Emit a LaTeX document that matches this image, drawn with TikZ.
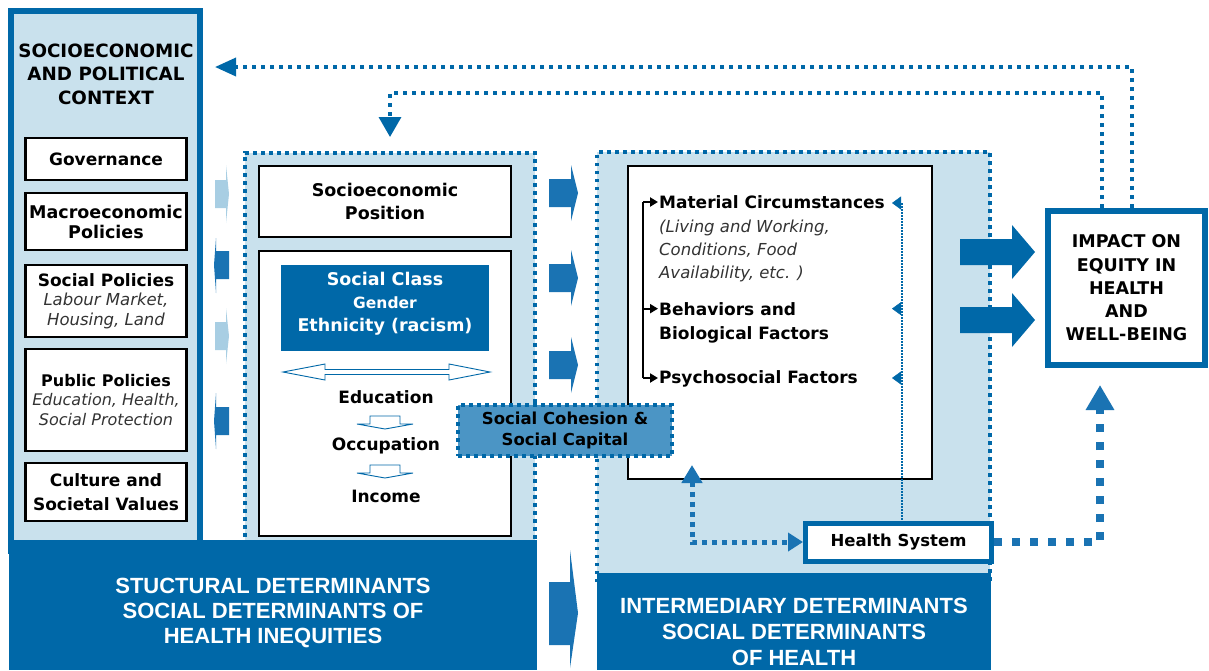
\documentclass[tikz,border=0pt]{standalone}
\usepackage{fontspec}
\setmainfont{DejaVu Sans}
\newfontfamily\bandfont{Liberation Sans}
\usetikzlibrary{arrows.meta,calc}
\definecolor{dblue}{HTML}{0068A8}
\definecolor{lblue}{HTML}{C9E1ED}
\definecolor{mblue}{HTML}{4B95C5}
\definecolor{ablue}{HTML}{1A73B3}
\definecolor{pblue}{HTML}{A8CEE3}
\newcommand{\myfs}[2]{\fontsize{#1}{#2}\selectfont}
\begin{document}
\begin{tikzpicture}[x=1pt,y=-1pt,
  panelbox/.style={inner sep=0,outer sep=0,fill=lblue},
  ctxframe/.style={draw=dblue,line width=6,fill=lblue,inner sep=0},
  sdot/.style={draw=dblue,line width=4,dash pattern=on 4 off 4},
  idot/.style={draw=dblue,line width=3.5,dash pattern=on 3.5 off 4.5},
  wbox/.style={draw=black,line width=2.2,fill=white,inner sep=0,align=center},
  lbl/.style={inner sep=0,align=center},
  itl/.style={inner sep=0,anchor=base west,font=\itshape\myfs{16.5}{20},text=black!80},
  bdl/.style={inner sep=0,anchor=base west,font=\bfseries\myfs{17}{20}},
  bk/.style={line width=2,-{Triangle[width=9,length=8]},shorten >=1},
  tinytip/.style={draw=dblue,line width=0.5,-{Triangle[width=13,length=9]}},
  fb/.style={draw=dblue,line width=3.5,dash pattern=on 4 off 5},
  hd/.style={draw=ablue,line width=8,dash pattern=on 8 off 10},
  hollow/.style={draw=dblue,line width=0.9,fill=white}
]
\useasboundingbox (0,0) rectangle (1209,670);

% ---------- panels ----------
\node[ctxframe,minimum width=189,minimum height=540] (ctx) at (105.5,281) {};
\node[panelbox,minimum width=290,minimum height=400] (strp) at (390,353) {};
\draw[sdot] (strp.south west) -- (strp.north west) -- (strp.north east) -- (strp.south east);
\node[panelbox,minimum width=393,minimum height=430] (intp) at (793.5,367) {};
\draw[idot] (intp.south west) -- (intp.north west) -- (intp.north east) -- (intp.south east);

% ---------- bottom bands ----------
\node[fill=dblue,inner sep=0,minimum width=528,minimum height=130] (sband) at (273,605) {};
\node[lbl,text=white,font=\bandfont\bfseries\myfs{22}{25}] (sbt) at (273,613) {STUCTURAL DETERMINANTS\\SOCIAL DETERMINANTS OF\\HEALTH INEQUITIES};
\node[fill=dblue,inner sep=0,minimum width=394,minimum height=97] (iband) at (794,621.5) {};
\node[lbl,text=white,font=\bandfont\bfseries\myfs{22}{26}] (ibt) at (794,632) {INTERMEDIARY DETERMINANTS\\SOCIAL DETERMINANTS\\OF HEALTH};

% ---------- left context ----------
\node[lbl,font=\bfseries\myfs{18.3}{23.5}] (ctxt) at (106,74) {SOCIOECONOMIC\\AND POLITICAL\\CONTEXT};
\node[wbox,minimum width=161,minimum height=42,font=\bfseries\myfs{17}{20}] (gov) at (106,159) {Governance};
\node[wbox,minimum width=161,minimum height=57,font=\bfseries\myfs{17.5}{20}] (mac) at (106,221.5) {Macroeconomic\\Policies};
\node[wbox,minimum width=161,minimum height=72,font=\myfs{16.5}{19.5}] (socp) at (106,301) {{\bfseries\myfs{17}{19.5}Social Policies}\\{\itshape\color{black!80}Labour Market,}\\{\itshape\color{black!80}Housing, Land}};
\node[wbox,minimum width=161,minimum height=102,font=\myfs{16}{19.5}] (pubp) at (106,400) {{\bfseries Public Policies}\\{\itshape\color{black!80}Education, Health,}\\{\itshape\color{black!80}Social Protection}};
\node[wbox,minimum width=161,minimum height=58,font=\bfseries\myfs{17}{24}] (cult) at (106,492) {Culture and\\Societal Values};

% small arrows in the gap
\fill[pblue] (215,180) -- (226,180) -- (226,165) -- (229,194) -- (226,223) -- (226,208) -- (215,208) -- cycle;
\fill[ablue] (229,251) -- (216,251) -- (216,238) -- (214,265) -- (216,293) -- (216,279) -- (229,279) -- cycle;
\fill[pblue] (215,322) -- (226,322) -- (226,308) -- (229,336) -- (226,364) -- (226,350) -- (215,350) -- cycle;
\fill[ablue] (229,407) -- (216,407) -- (216,393) -- (214,421) -- (216,449) -- (216,435) -- (229,435) -- cycle;

% ---------- structural ----------
\node[wbox,minimum width=252,minimum height=71,font=\bfseries\myfs{17.5}{23}] (sep) at (385,201.5) {Socioeconomic\\Position};
\node[wbox,minimum width=252,minimum height=285] (big) at (385,393.5) {};
\node[fill=dblue,inner sep=0,minimum width=208,minimum height=86] (scg) at (385,308) {};
\node[lbl,text=white,font=\bfseries\myfs{17.5}{23}] (scgt) at (385,304) {Social Class\\{\myfs{15.5}{23}Gender}\\Ethnicity (racism)};
\draw[hollow] (283,372) -- (325,364) -- (325,369.5) -- (449,369.5) -- (449,364) -- (490,372) -- (449,380) -- (449,374.5) -- (325,374.5) -- (325,380) -- cycle;
\node[lbl,font=\bfseries\myfs{17}{20}] (edu) at (386,397) {Education};
\node[lbl,font=\bfseries\myfs{17}{20}] (occ) at (386,446) {Occupation};
\node[lbl,font=\bfseries\myfs{17}{20}] (inc) at (386,496) {Income};
\draw[hollow] (370,416) -- (400,416) -- (400,424) -- (413,424) -- (385,429) -- (357,424) -- (370,424) -- cycle;
\draw[hollow] (370,465) -- (400,465) -- (400,473) -- (413,473) -- (385,478) -- (357,473) -- (370,473) -- cycle;

% arrows structural -> intermediary
\foreach \yy in {193,278,365}{
  \fill[ablue] (549,\yy-14) -- (571,\yy-14) -- (571,\yy-28) -- (578,\yy) -- (571,\yy+28) -- (571,\yy+14) -- (549,\yy+14) -- cycle;
}
\fill[ablue] (549,582) -- (570,582) -- (570,550) -- (578,613) -- (570,668) -- (570,645) -- (549,645) -- cycle;

% ---------- intermediary ----------
\node[wbox,minimum width=304,minimum height=313] (mbox) at (780,322.5) {};
\node[bdl] (matc) at (659,208) {Material Circumstances};
\node[itl] (it1) at (659,232) {(Living and Working,};
\node[itl] (it2) at (659,255) {Conditions, Food};
\node[itl] (it3) at (659,278) {Availability, etc. )};
\node[bdl] (behav) at (659,315) {Behaviors and};
\node[bdl] (biol) at (659,339) {Biological Factors};
\node[bdl] (psy) at (659,383) {Psychosocial Factors};

\coordinate (bt) at (643,202);
\coordinate (bb) at (643,378);
\draw[line width=2] (bt) -- (bb);
\draw[bk] (bt) -- (bt -| matc.west);
\draw[bk] (bt |- behav.west) -- (behav.west);
\draw[bk] (bb) -- (bb -| psy.west);

\node[draw=dblue,line width=5,fill=white,minimum width=186,minimum height=38,inner sep=0,font=\bfseries\myfs{16.5}{20}] (hs) at (898.5,542) {Health System};

\coordinate (vt) at (902,203);
\draw[dblue,line width=1.3,dash pattern=on 1.5 off 1.5] (vt) -- (vt |- hs.north);
\draw[tinytip] (vt) -- ($(vt)+(-10,0)$);
\draw[tinytip] (vt |- behav.west) -- ($(vt |- behav.west)+(-10,0)$);
\draw[tinytip] (vt |- bb) -- ($(vt |- bb)+(-10,0)$);

\coordinate (mu) at (692,465);
\draw[draw=ablue,line width=5,dash pattern=on 5 off 5,{Triangle[width=20,length=18]}-{Triangle[width=18,length=15]}] (mu) |- (hs.west);

% ---------- impact ----------
\node[draw=dblue,line width=6,fill=white,minimum width=157,minimum height=154,inner sep=0,align=center,font=\bfseries\myfs{17.5}{23.3}] (imp) at (1126.5,288) {IMPACT ON\\EQUITY IN\\HEALTH\\AND\\WELL-BEING};
\foreach \yy in {252,320}{
  \fill[dblue] (960,\yy-13) -- (1012,\yy-13) -- (1012,\yy-27) -- (1035,\yy) -- (1012,\yy+27) -- (1012,\yy+13) -- (960,\yy+13) -- cycle;
}

% ---------- feedback loops ----------
\coordinate (u1) at (1132,67);
\coordinate (u2) at (1102,93);
\draw[fb,-{Triangle[width=18,length=21]}] (imp.north -| u1) -- (u1) -- ($(ctx.east |- u1)+(12,0)$);
\draw[fb,-{Triangle[width=22,length=20]}] (imp.north -| u2) -- (u2) -- (strp.north |- u2) -- ($(strp.north)+(0,-16)$);

\coordinate (hi) at (1100,385);
\draw[hd,-{Triangle[width=27,length=25]}] (hs.east) -| (hi);

% ---------- social cohesion ----------
\node[draw=dblue,line width=4,dash pattern=on 4 off 4,fill=mblue,minimum width=214,minimum height=51,inner sep=0,align=center,font=\bfseries\myfs{16.5}{21}] (coh) at (565,430.5) {Social Cohesion \&\\Social Capital};
\end{tikzpicture}
\end{document}
